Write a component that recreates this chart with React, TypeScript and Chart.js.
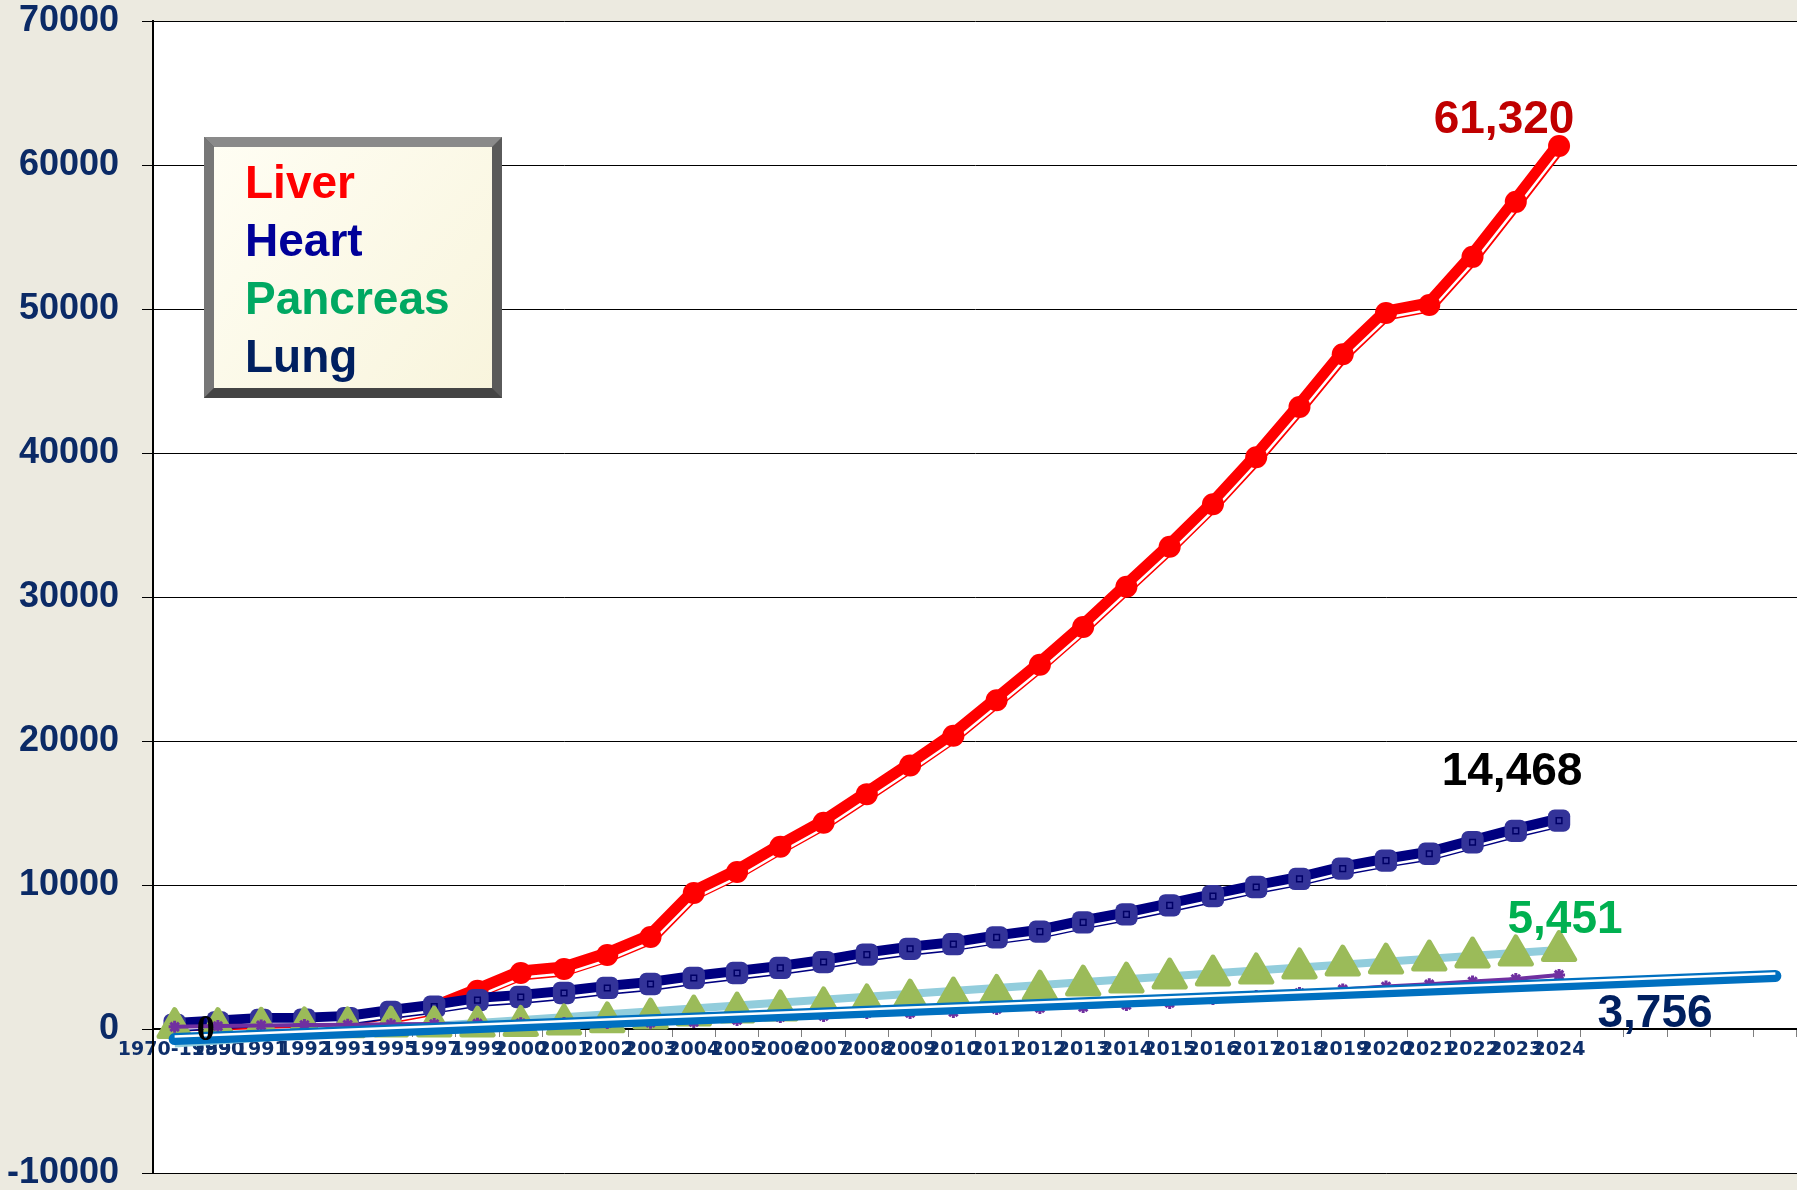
import React, { useEffect, useRef } from 'react';
import { Chart, registerables } from 'chart.js';

Chart.register(...registerables);

const categories = [
  '1970-1989', '1990', '1991', '1992', '1993', '1995', '1997', '1999',
  '2000', '2001', '2002', '2003', '2004', '2005', '2006', '2007', '2008', '2009',
  '2010', '2011', '2012', '2013', '2014', '2015', '2016', '2017', '2018', '2019',
  '2020', '2021', '2022', '2023', '2024', '', '', '', '', '',
];

const liver = [
  50, 130, 220, 330, 450, 900, 1450, 2650, 3890, 4170, 5140, 6390, 9440, 10900,
  12650, 14320, 16310, 18300, 20370, 22830, 25300, 27920, 30710, 33490, 36440,
  39700, 43200, 46860, 49720, 50280, 53620, 57440, 61320,
];

const heart = [
  280, 450, 625, 650, 760, 1180, 1550, 2010, 2220, 2500, 2850, 3125, 3540, 3890,
  4240, 4650, 5170, 5570, 5890, 6360, 6760, 7400, 7960, 8590, 9230, 9860, 10420,
  11140, 11690, 12170, 12970, 13760, 14468,
];

const pancreas = [
  100, 100, 120, 150, 150, 200, 200, 200, 250, 350, 500, 760, 970, 1180, 1320,
  1530, 1740, 2080, 2220, 2400, 2700, 3050, 3260, 3540, 3750, 3890, 4240, 4440,
  4580, 4790, 5000, 5140, 5451,
];

const lung = [
  150, 200, 250, 280, 300, 330, 350, 370, 400, 410, 420, 440, 490, 625, 830, 900,
  1110, 1110, 1180, 1390, 1460, 1530, 1670, 1810, 2080, 2290, 2500, 2750, 2950,
  3100, 3300, 3470, 3756,
];

// straight trend lines: [first category value, last category value]
const lungTrendEnds = [-700, 3680];
const pancreasTrendEnds = [-1000, 5490];

const yTicks = { min: -10000, max: 70000, step: 10000 };

const legendItems = ['Liver', 'Heart', 'Pancreas', 'Lung'];
const legendColors = ['#FF0000', '#000099', '#00A862', '#002060'];

const valueLabels = ['61,320', '14,468', '5,451', '3,756'];
const valueLabelColors = ['#C00000', '#000000', '#00B050', '#002060'];

const targetArea = { left: 153, top: 21, right: 1797, bottom: 1173 };

function trendArray(ends: number[], lastIndex: number) {
  return categories.map((_, i) => (i === 0 ? ends[0] : i === lastIndex ? ends[1] : null));
}

const shiftPlugin = {
  id: 'shiftStripe',
  beforeDatasetDraw(chart: any, args: any) {
    const ds: any = chart.data.datasets[args.index];
    chart.ctx.save();
    if (ds.shift) chart.ctx.translate(ds.shift[0], ds.shift[1]);
    if (ds.roundJoin) chart.ctx.lineJoin = 'round';
  },
  afterDatasetDraw(chart: any) {
    chart.ctx.restore();
  },
};

const bgPlugin = {
  id: 'bgPlugin',
  beforeDraw(chart: any) {
    const { ctx, chartArea: ca, width, height } = chart;
    ctx.save();
    ctx.fillStyle = '#ECEAE0';
    ctx.fillRect(0, 0, width, height);
    ctx.fillStyle = '#FFFFFF';
    ctx.fillRect(ca.left, ca.top, ca.right - ca.left, ca.bottom - ca.top);
    ctx.restore();
  },
};

const overlayPlugin = {
  id: 'overlay',
  afterDraw(chart: any) {
    const { ctx, chartArea: ca, scales } = chart;
    const xs = scales.x;
    const ys = scales.y;
    ctx.save();

    // legend box
    const lx = ca.left + 51;
    const ly = ca.top + 116;
    const lw = 298;
    const lh = 261;
    const b = 10;
    ctx.fillStyle = '#5a5a5a';
    ctx.fillRect(lx, ly, lw, lh);
    ctx.fillStyle = '#8a8a8a';
    ctx.beginPath();
    ctx.moveTo(lx, ly); ctx.lineTo(lx + lw, ly); ctx.lineTo(lx + lw - b, ly + b); ctx.lineTo(lx + b, ly + b); ctx.closePath();
    ctx.fill();
    ctx.fillStyle = '#777777';
    ctx.beginPath();
    ctx.moveTo(lx, ly); ctx.lineTo(lx + b, ly + b); ctx.lineTo(lx + b, ly + lh - b); ctx.lineTo(lx, ly + lh); ctx.closePath();
    ctx.fill();
    ctx.fillStyle = '#444444';
    ctx.beginPath();
    ctx.moveTo(lx, ly + lh); ctx.lineTo(lx + b, ly + lh - b); ctx.lineTo(lx + lw - b, ly + lh - b); ctx.lineTo(lx + lw, ly + lh); ctx.closePath();
    ctx.fill();
    const g = ctx.createLinearGradient(lx, ly, lx + lw, ly + lh);
    g.addColorStop(0, '#FFFEF4');
    g.addColorStop(1, '#F8F4DC');
    ctx.fillStyle = g;
    ctx.fillRect(lx + b, ly + b, lw - 2 * b, lh - 2 * b);
    ctx.font = "bold 46px 'Liberation Sans', Arial, sans-serif";
    ctx.textAlign = 'left';
    ctx.textBaseline = 'alphabetic';
    legendItems.forEach((t, i) => {
      ctx.fillStyle = legendColors[i];
      ctx.fillText(t, lx + 41, ly + 61 + i * 58);
    });

    // end value labels
    const last = liver.length - 1;
    const px = xs.getPixelForValue(last);
    ctx.textAlign = 'center';
    const ends = [liver[last], heart[last], pancreas[last], lung[last]];
    const offs = [[-55, -13], [-47, -36], [6, -18], [96, 52]];
    ends.forEach((v, i) => {
      ctx.fillStyle = valueLabelColors[i];
      ctx.fillText(valueLabels[i], px + offs[i][0], ys.getPixelForValue(v) + offs[i][1]);
    });

    // "0" data label at the start
    ctx.font = "bold 36px 'Liberation Serif', serif";
    ctx.fillStyle = '#000000';
    ctx.textBaseline = 'middle';
    ctx.fillText('0', xs.getPixelForValue(0) + 31, ys.getPixelForValue(0) + 2);
    ctx.restore();
  },
};

const zeroPad = (s: any) => {
  s.paddingTop = 0;
  s.paddingBottom = 0;
  s.paddingLeft = 0;
  s.paddingRight = 0;
};

export default function App() {
  const ref = useRef<HTMLCanvasElement | null>(null);
  useEffect(() => {
    document.body.style.margin = '0';
    const canvas = ref.current;
    if (!canvas) return;
    const lastData = liver.length - 1;
    const lastCat = categories.length - 1;
    const padding = { top: targetArea.top, bottom: 1190 - targetArea.bottom, left: 0, right: 0 };
    const options: any = {
      animation: false,
      responsive: false,
      devicePixelRatio: 1,
      layout: { padding, autoPadding: false },
      elements: { line: { tension: 0 } },
      plugins: { legend: { display: false }, tooltip: { enabled: false } },
      scales: {
        x: {
          type: 'category',
          position: { y: 0 },
          offset: true,
          afterFit: zeroPad,
          grid: { display: true, drawOnChartArea: false, drawTicks: true, tickLength: 7, tickColor: '#7f7f7f', offset: true },
          border: { display: true, color: '#000000', width: 2 },
          ticks: {
            autoSkip: false, maxRotation: 0, minRotation: 0, padding: 3,
            color: '#0E2F6A',
            font: { family: "'DejaVu Sans', sans-serif", weight: 'bold', size: 19 },
          },
        },
        y: {
          position: 'left',
          min: yTicks.min,
          max: yTicks.max,
          afterFit: (s: any) => { s.width = 153; zeroPad(s); },
          grid: { color: '#000000', lineWidth: 1, tickLength: 11, tickColor: '#000000', drawTicks: true },
          border: { display: true, color: '#000000', width: 2 },
          ticks: {
            stepSize: yTicks.step,
            padding: 23,
            color: '#0B2A66',
            font: { family: "'Liberation Sans', Arial, sans-serif", weight: 'bold', size: 36, lineHeight: 0.9 },
            callback: (v: any) => String(v),
          },
        },
      },
    };
    const chart = new Chart(canvas, {
      type: 'line',
      data: {
        labels: categories,
        datasets: [
          { data: trendArray(lungTrendEnds, lastCat), borderColor: '#FFFFFF', borderWidth: 2.5, pointRadius: 0, spanGaps: true, order: 0, shift: [0, -2.5], borderCapStyle: 'butt' } as any,
          { data: trendArray(lungTrendEnds, lastCat), borderColor: '#0070C0', borderWidth: 12, pointRadius: 0, spanGaps: true, order: 1, borderCapStyle: 'round' } as any,
          { data: lung, borderColor: '#7030A0', borderWidth: 4, pointStyle: 'star', pointRadius: 6, pointBorderWidth: 3, pointBorderColor: '#7030A0', pointBackgroundColor: '#7030A0', order: 2 } as any,
          { data: pancreas, showLine: false, pointStyle: 'triangle', pointRadius: 18, pointBorderWidth: 5, pointBorderColor: '#9BBB59', pointBackgroundColor: '#9BBB59', order: 3, roundJoin: true } as any,
          { data: trendArray(pancreasTrendEnds, lastData), borderColor: '#92CDDC', borderWidth: 8, pointRadius: 0, spanGaps: true, order: 4 } as any,
          { data: heart, showLine: false, pointStyle: 'rect', pointRadius: 4, pointBorderWidth: 1.5, pointBorderColor: '#000066', pointBackgroundColor: '#3a3aa0', order: 5 } as any,
          { data: heart, showLine: false, pointStyle: 'rectRounded', pointRadius: 13, pointBorderWidth: 0, pointBackgroundColor: '#333399', order: 6 } as any,
          { data: heart, borderColor: '#FFFFFF', borderWidth: 2.5, pointRadius: 0, order: 7, shift: [2, 4] } as any,
          { data: heart, borderColor: '#000080', borderWidth: 14, pointRadius: 0, order: 8, borderJoinStyle: 'round' } as any,
          { data: liver, showLine: false, pointStyle: 'circle', pointRadius: 11, pointBorderWidth: 0, pointBackgroundColor: '#FF0000', order: 9 } as any,
          { data: liver, borderColor: '#FFFFFF', borderWidth: 2.5, pointRadius: 0, order: 10, shift: [2, 4.5] } as any,
          { data: liver, borderColor: '#FF0000', borderWidth: 15, pointRadius: 0, order: 11, borderJoinStyle: 'round' } as any,
        ],
      },
      options,
      plugins: [bgPlugin, shiftPlugin, overlayPlugin],
    });
    // nudge layout padding so the plot area lands where the reference has it
    for (let k = 0; k < 3; k++) {
      const ca = chart.chartArea;
      const dl = targetArea.left - ca.left;
      const dt = targetArea.top - ca.top;
      const dr = ca.right - targetArea.right;
      const db = ca.bottom - targetArea.bottom;
      if (Math.abs(dl) + Math.abs(dt) + Math.abs(dr) + Math.abs(db) < 0.5) break;
      const np = { left: padding.left + dl, top: padding.top + dt, right: padding.right + dr, bottom: padding.bottom + db };
      Object.assign(padding, np);
      (chart as any).config.options.layout.padding = { ...np };
      chart.update();
    }
    return () => chart.destroy();
  }, []);
  return (
    <div style={{ width: 1797, height: 1190, background: '#ECEAE0' }}>
      <canvas ref={ref} width={1797} height={1190} style={{ display: 'block' }} />
    </div>
  );
}
